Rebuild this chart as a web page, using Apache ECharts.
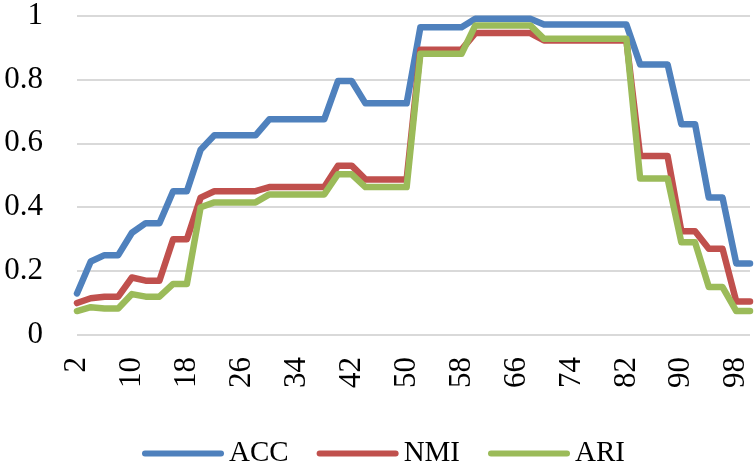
<!DOCTYPE html>
<html>
<head>
<meta charset="utf-8">
<script src="https://cdn.jsdelivr.net/npm/echarts@6/dist/echarts.min.js"></script>
<style>html,body{margin:0;padding:0;background:#fff;}#c{width:756px;height:466px;}</style>
</head>
<body>
<div id="c"></div>
<script>
const categories = [2,4,6,8,10,12,14,16,18,20,22,24,26,28,30,32,34,36,38,40,42,44,46,48,50,52,54,56,58,60,62,64,66,68,70,72,74,76,78,80,82,84,86,88,90,92,94,96,98,100];
const ACC = [0.13,0.23,0.25,0.25,0.32,0.35,0.35,0.45,0.45,0.58,0.625,0.625,0.625,0.625,0.675,0.675,0.675,0.675,0.675,0.795,0.795,0.725,0.725,0.725,0.725,0.963,0.963,0.963,0.963,0.99,0.99,0.99,0.99,0.99,0.972,0.972,0.972,0.972,0.972,0.972,0.972,0.847,0.847,0.847,0.66,0.66,0.43,0.43,0.224,0.224];
const NMI = [0.10,0.115,0.12,0.12,0.18,0.17,0.17,0.30,0.30,0.43,0.45,0.45,0.45,0.45,0.463,0.463,0.463,0.463,0.463,0.53,0.53,0.487,0.487,0.487,0.487,0.893,0.893,0.893,0.893,0.945,0.945,0.945,0.945,0.945,0.922,0.922,0.922,0.922,0.922,0.922,0.922,0.56,0.56,0.56,0.325,0.325,0.27,0.27,0.105,0.105];
const ARI = [0.075,0.087,0.083,0.083,0.128,0.12,0.12,0.16,0.16,0.40,0.415,0.415,0.415,0.415,0.44,0.44,0.44,0.44,0.44,0.503,0.503,0.463,0.463,0.463,0.463,0.88,0.88,0.88,0.88,0.969,0.969,0.969,0.969,0.969,0.927,0.927,0.927,0.927,0.927,0.927,0.927,0.49,0.49,0.49,0.29,0.29,0.15,0.15,0.075,0.075];
const yTicks = {min:0, max:1, interval:0.2};

const font = 'Liberation Serif';
const chart = echarts.init(document.getElementById('c'), null, {renderer:'canvas'});
const capsule = 'path://M3,0 L79,0 A3,3 0 0 1 79,6 L3,6 A3,3 0 0 1 3,0 Z';
function mk(name, data, color){
  return {name, type:'line', data, symbol:'none', showSymbol:false, animation:false,
    lineStyle:{color, width:6.5, join:'round', cap:'round'}, itemStyle:{color}};
}
chart.setOption({
  animation:false,
  grid:{left:77, right:6, top:15, bottom:131, containLabel:false},
  legend:{
    data:['ACC','NMI','ARI'], left:137, top:434, icon:capsule, itemWidth:82, itemHeight:7, itemGap:28,
    textStyle:{fontFamily:font, fontSize:29, color:'#000'}
  },
  xAxis:{
    type:'category', data:categories, boundaryGap:false,
    axisLine:{show:false}, axisTick:{show:false},
    axisLabel:{interval:3, rotate:90, margin:22, fontFamily:font, fontSize:31, color:'#000'},
    splitLine:{show:false}
  },
  yAxis:{
    type:'value', min:yTicks.min, max:yTicks.max, interval:yTicks.interval,
    axisLine:{show:false}, axisTick:{show:false},
    axisLabel:{margin:34, fontFamily:font, fontSize:31, color:'#000'},
    splitLine:{lineStyle:{color:'#D9D9D9', width:2}}
  },
  series:[mk('ACC',ACC,'#4F81BD'), mk('NMI',NMI,'#C0504D'), mk('ARI',ARI,'#9BBB59')]
});
</script>
</body>
</html>
